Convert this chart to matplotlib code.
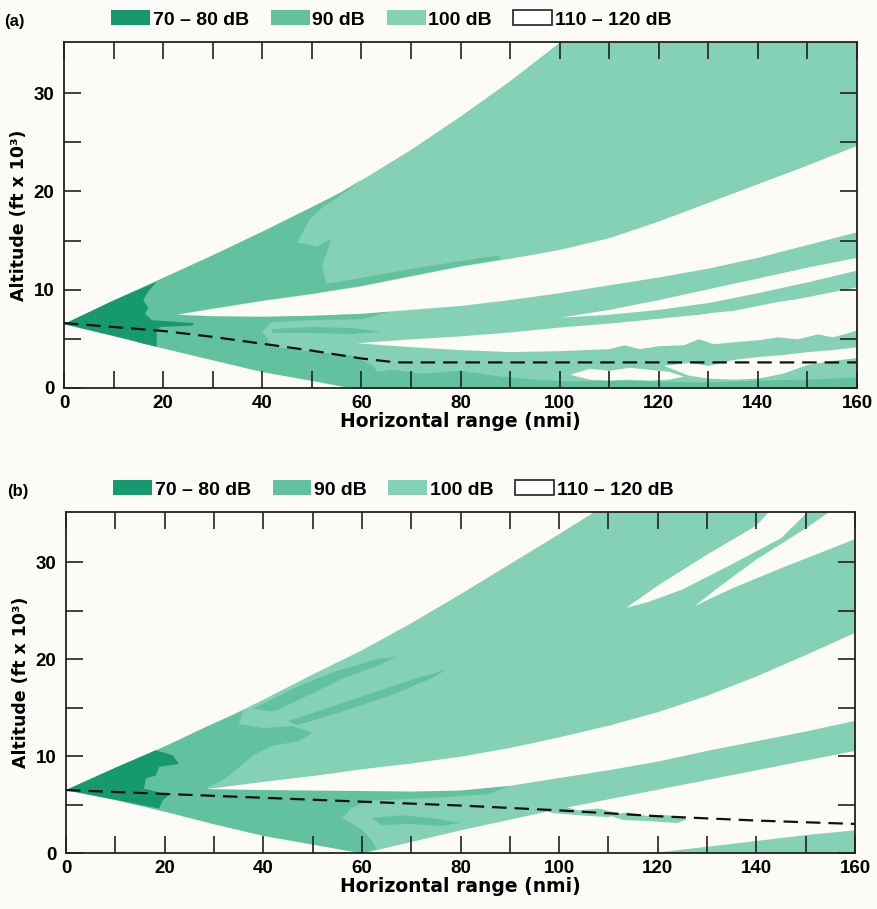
import matplotlib
matplotlib.use("Agg")
import matplotlib.pyplot as plt
from matplotlib.patches import Patch

plt.rcParams['font.family'] = ['Liberation Sans', 'DejaVu Sans']
plt.rcParams['font.weight'] = 'bold'
plt.rcParams['axes.labelweight'] = 'bold'

# ---- colours for the signal-level bands ----
BG = '#fcfbf7'
C_7080 = '#179970'
C_90 = '#62c19e'
C_100 = '#84d1b5'

LEVEL_LABELS = ['70 \u2013 80 dB', '90 dB', '100 dB', '110 \u2013 120 dB']

# ======================= (a) =======================
# overall fan envelope (range nmi, altitude kft)
A_FAN_X = [0, 10, 20, 30, 40, 50, 58, 60, 70, 80, 90, 100, 110, 120, 130, 140, 150, 160]
A_FAN_TOP = [6.5, 8.9, 11.2, 13.5, 15.9, 18.4, 20.6, 21.2, 24.3, 27.7, 31.3, 35.2, 39.5, 44, 48, 52, 56, 60]
A_FAN_BOT = [6.5, 5.3, 4.05, 2.85, 1.65, 0.75, 0, 0, 0, 0, 0, 0, 0, 0, 0, 0, 0, 0]

# 110-120 dB gaps
A_GAP1_X = [22.8, 30, 40, 50, 60, 70, 80, 90, 100, 110, 120, 130, 140, 150, 160]
A_GAP1_UP = [7.5, 8.1, 8.9, 9.6, 10.4, 11.4, 12.4, 13.2, 14.1, 15.3, 17.0, 18.9, 20.8, 22.7, 24.7]
A_GAP1_LO = [7.5, 7.35, 7.3, 7.4, 7.6, 8.0, 8.4, 9.0, 9.7, 10.5, 11.3, 12.2, 13.3, 14.6, 15.9]

A_GAP2_X = [100, 110, 120, 130, 140, 150, 160]
A_GAP2_UP = [7.2, 8.0, 9.0, 10.1, 11.2, 12.3, 13.3]
A_GAP2_LO = [7.2, 7.5, 8.0, 8.7, 9.7, 10.8, 12.0]

A_GAP3_X = [59, 70, 80, 90, 100, 105, 110, 113, 116, 120, 125, 128, 131, 135,
            140, 144, 148, 152, 155, 158, 160]
A_GAP3_UP = [4.6, 5.0, 5.3, 5.7, 6.2, 6.4, 6.6, 6.75, 6.9, 7.1, 7.35, 7.5, 7.7, 7.9,
             8.4, 8.8, 9.1, 9.5, 9.8, 10.1, 10.3]
A_GAP3_LO = [4.6, 4.2, 3.9, 3.7, 3.8, 3.9, 4.0, 4.4, 4.0, 4.3, 4.4, 5.0, 4.5, 4.7,
             4.9, 5.2, 5.0, 5.5, 5.2, 5.6, 5.9]

A_GAP4_X = [102, 106, 110, 114, 118, 122, 125]
A_GAP4_UP = [1.4, 2.0, 1.8, 2.1, 1.9, 1.7, 1.2]
A_GAP4_LO = [1.4, 0.9, 0.8, 0.9, 0.8, 0.9, 1.2]

A_GAP5_X = [121, 126, 130, 135, 140, 145, 150, 155, 160]
A_GAP5_UP = [2.3, 2.6, 2.3, 2.9, 3.2, 3.4, 3.7, 3.9, 4.2]
A_GAP5_LO = [2.3, 1.3, 1.0, 0.9, 1.0, 1.5, 2.4, 2.8, 3.1]

# 90 dB patches
A_P1_X = [0, 10, 20, 30, 40, 50, 56, 60, 57, 52, 49.5, 47, 51, 54, 52, 53, 60, 70, 80, 88,
          88, 80, 70, 60, 50, 40, 30, 22.8, 15, 0]
A_P1_Y = [6.5, 8.9, 11.2, 13.5, 15.9, 18.4, 19.9, 21.2, 20.0, 18.3, 17.1, 14.8, 14.4, 15.2, 12.4, 10.6,
          11.2, 12.1, 12.9, 13.5, 13.1, 12.4, 11.4, 10.4, 9.6, 8.9, 8.1, 7.5, 7.0, 6.5]

A_P2_X = [15, 22.8, 30, 40, 50, 60, 66, 60, 50, 42, 40, 42, 50, 58, 62, 64, 58, 50, 40, 30, 20, 15]
A_P2_Y = [7.0, 7.5, 7.35, 7.3, 7.4, 7.6, 7.8, 7.0, 6.9, 6.7, 5.8, 4.2, 3.7, 3.3, 2.4, 1.2, 0, 0.75,
          1.65, 2.85, 4.05, 4.6]

A_P3_X = [42, 50, 58, 64, 58, 50, 42]
A_P3_Y = [6.0, 6.2, 6.1, 5.7, 5.5, 5.6, 5.6]

A_P4_X = [58, 62, 66, 72, 80, 88, 95, 102, 110, 120, 130, 140, 150, 160]
A_P4_TOP = [0, 1.6, 1.9, 1.5, 1.8, 1.2, 0.9, 0.7, 0.8, 0.7, 0.6, 0.8, 0.9, 1.1]

# 70-80 dB core near the source
A_D_X = [0, 10, 18.7, 17.0, 16.0, 17.0, 16.3, 17.7, 26.1, 26.1, 19.4, 18.7, 18.7, 10, 0]
A_D_Y = [6.5, 8.9, 10.8, 9.8, 8.95, 8.1, 7.6, 6.9, 6.6, 6.35, 6.2, 5.9, 4.2, 5.3, 6.5]

# aircraft flight path
A_PATH_X = [0, 10, 20, 30, 40, 50, 60, 67, 160]
A_PATH_Y = [6.6, 6.2, 5.8, 5.2, 4.5, 3.8, 3.0, 2.6, 2.6]

# ======================= (b) =======================
B_FAN_X = [0, 10, 20, 30, 40, 50, 60, 70, 80, 90, 100, 110, 120, 130, 140, 150, 160]
B_FAN_TOP = [6.5, 8.8, 11.0, 13.4, 15.9, 18.5, 21.0, 23.8, 26.8, 29.9, 33.0, 36.2, 39.5, 43, 46.5, 50, 53.5]
B_FAN_BOT = [6.5, 5.5, 4.3, 3.0, 1.8, 0.9, 0, 1.2, 2.4, 3.5, 4.6, 5.6, 6.6, 7.6, 8.6, 9.6, 10.6]

B_GAP1_X = [28.4, 40, 50, 60, 70, 80, 90, 100, 110, 120, 130, 140, 150, 160]
B_GAP1_UP = [6.65, 7.4, 8.0, 8.7, 9.3, 10.0, 10.9, 12.0, 13.2, 14.6, 16.3, 18.3, 20.5, 22.8]
B_GAP1_LO = [6.65, 6.55, 6.5, 6.45, 6.4, 6.5, 7.0, 7.8, 8.6, 9.5, 10.6, 11.6, 12.6, 13.7]

B_W1_X = [113.6, 120, 130, 140, 144, 152, 145, 135, 125, 118, 113.6]
B_W1_Y = [25.3, 27.6, 30.8, 33.8, 36, 36, 32.5, 29.8, 27.2, 25.9, 25.3]
B_W2_X = [127.5, 135, 145, 155, 160, 160, 157, 150, 140, 132, 127.5]
B_W2_Y = [25.5, 27.3, 29.4, 31.4, 32.4, 36, 36, 33.5, 30.3, 27.3, 25.5]

# isolated 100 dB returns below the beam and near the ground
B_L1_X = [96, 100, 104, 108, 112, 110, 104, 99, 96]
B_L1_Y = [4.5, 4.9, 4.4, 4.6, 4.1, 3.7, 3.9, 4.1, 4.5]
B_L2_X = [110, 114, 118, 122, 126, 124, 118, 113, 110]
B_L2_Y = [3.9, 4.2, 3.8, 3.9, 3.5, 3.1, 3.3, 3.4, 3.9]
B_GND_X = [118, 130, 140, 150, 160]
B_GND_TOP = [0, 0.7, 1.3, 1.9, 2.4]

B_Q1_X = [0, 10, 20, 30, 36, 35, 40, 46, 50, 47, 42, 38, 35, 32, 28.4, 40, 50, 60, 70, 80, 90,
          86, 78, 70, 62, 58, 56, 60, 62, 63, 60, 50, 40, 30, 20, 10, 0]
B_Q1_Y = [6.5, 8.8, 11.0, 13.4, 14.7, 13.3, 12.9, 13.1, 12.4, 11.5, 11.1, 10.1, 8.8, 7.6, 6.65, 6.55,
          6.5, 6.45, 6.4, 6.5, 7.0, 6.1, 5.8, 5.6, 5.4, 4.7, 3.6, 2.4, 1.3, 0.4, 0, 0.9, 1.8, 3.0, 4.3,
          5.5, 6.5]
B_Q2_X = [38, 47, 55, 63, 67, 64, 56, 48, 42]
B_Q2_Y = [14.9, 17.2, 18.8, 20.0, 20.3, 19.5, 18.0, 16.0, 14.6]
B_Q3_X = [45, 55, 65, 72, 77, 74, 66, 56, 47]
B_Q3_Y = [13.6, 15.3, 17.0, 18.2, 18.9, 18.0, 16.3, 14.6, 13.2]
B_Q4_X = [62, 68, 74, 80, 76, 70, 64]
B_Q4_Y = [3.6, 3.9, 3.6, 3.1, 2.8, 3.0, 2.9]

B_D_X = [0, 10, 18.2, 21.6, 22.9, 18.9, 18.2, 16.2, 15.8, 20.9, 19.6, 18.9, 10, 0]
B_D_Y = [6.5, 8.8, 10.6, 10.1, 9.2, 8.9, 8.0, 7.7, 6.65, 6.0, 5.45, 4.6, 5.5, 6.5]

B_PATH_X = [0, 20, 40, 60, 80, 100, 120, 140, 160]
B_PATH_Y = [6.5, 6.1, 5.7, 5.3, 4.9, 4.4, 3.8, 3.35, 3.0]


def band(ax, x, up, lo, color):
    ax.fill_between(x, lo, up, color=color, lw=0)


def poly(ax, x, y, color):
    ax.fill(x, y, color=color, lw=0)


def style_axes(ax, tag):
    ax.set_facecolor(BG)
    ax.set_xlim(0, 160)
    ax.set_ylim(0, 35.2)
    ax.set_xticks(range(0, 161, 10))
    ax.set_xticklabels([str(v) if v % 20 == 0 else '' for v in range(0, 161, 10)])
    ax.set_yticks(range(0, 31, 5))
    ax.set_yticklabels([str(v) if v % 10 == 0 else '' for v in range(0, 31, 5)])
    ax.tick_params(direction='in', length=12, width=1.2, top=True, right=True,
                   labelsize=13.5, color='#222222')
    ax.tick_params(axis='x', pad=5)
    ax.tick_params(axis='y', pad=7)
    for s in ax.spines.values():
        s.set_linewidth(1.3)
        s.set_color('#222222')
    ax.set_xlabel('Horizontal range (nmi)', fontsize=13.5, labelpad=0,
                  family=['DejaVu Sans'])
    ax.set_ylabel('Altitude (ft x 10\u00b3)', fontsize=12.5, labelpad=4,
                  family=['DejaVu Sans'])

    handles = [Patch(facecolor=C_7080, edgecolor='none'),
               Patch(facecolor=C_90, edgecolor='none'),
               Patch(facecolor=C_100, edgecolor='none'),
               Patch(facecolor='white', edgecolor='#222222', linewidth=1.2)]
    ax.legend(handles, LEVEL_LABELS, loc='lower left', bbox_to_anchor=(0.045, 1.005),
              ncol=4, frameon=False, fontsize=14, handlelength=2.0, handleheight=0.8,
              handletextpad=0.15, columnspacing=1.1, borderaxespad=0.2)
    ax.text(-0.075, 1.06, tag, transform=ax.transAxes, fontsize=12, va='center')


fig = plt.figure(figsize=(8.78, 9.09), dpi=100, facecolor=BG)
dash = (0, (6.5, 3.6))

# ---- panel (a) ----
ax1 = fig.add_axes([0.0729, 0.5732, 0.9032, 0.3806])
band(ax1, A_FAN_X, A_FAN_TOP, A_FAN_BOT, C_100)
band(ax1, A_P4_X, A_P4_TOP, [0] * len(A_P4_X), C_90)
poly(ax1, A_P1_X, A_P1_Y, C_90)
poly(ax1, A_P2_X, A_P2_Y, C_90)
poly(ax1, A_P3_X, A_P3_Y, C_90)
poly(ax1, A_D_X, A_D_Y, C_7080)
band(ax1, A_GAP1_X, A_GAP1_UP, A_GAP1_LO, BG)
band(ax1, A_GAP2_X, A_GAP2_UP, A_GAP2_LO, BG)
band(ax1, A_GAP3_X, A_GAP3_UP, A_GAP3_LO, BG)
band(ax1, A_GAP4_X, A_GAP4_UP, A_GAP4_LO, BG)
band(ax1, A_GAP5_X, A_GAP5_UP, A_GAP5_LO, BG)
ax1.plot(A_PATH_X, A_PATH_Y, color='#111111', lw=1.6, linestyle=dash)
style_axes(ax1, '(a)')

# ---- panel (b) ----
ax2 = fig.add_axes([0.0752, 0.0616, 0.8986, 0.3751])
band(ax2, B_FAN_X, B_FAN_TOP, B_FAN_BOT, C_100)
band(ax2, B_GND_X, B_GND_TOP, [0] * len(B_GND_X), C_100)
poly(ax2, B_L1_X, B_L1_Y, C_100)
poly(ax2, B_L2_X, B_L2_Y, C_100)
poly(ax2, B_Q1_X, B_Q1_Y, C_90)
poly(ax2, B_Q2_X, B_Q2_Y, C_90)
poly(ax2, B_Q3_X, B_Q3_Y, C_90)
poly(ax2, B_Q4_X, B_Q4_Y, C_90)
poly(ax2, B_D_X, B_D_Y, C_7080)
band(ax2, B_GAP1_X, B_GAP1_UP, B_GAP1_LO, BG)
poly(ax2, B_W1_X, B_W1_Y, BG)
poly(ax2, B_W2_X, B_W2_Y, BG)
ax2.plot(B_PATH_X, B_PATH_Y, color='#111111', lw=1.6, linestyle=dash)
style_axes(ax2, '(b)')

fig.savefig('out.png', dpi=100, facecolor=BG)
